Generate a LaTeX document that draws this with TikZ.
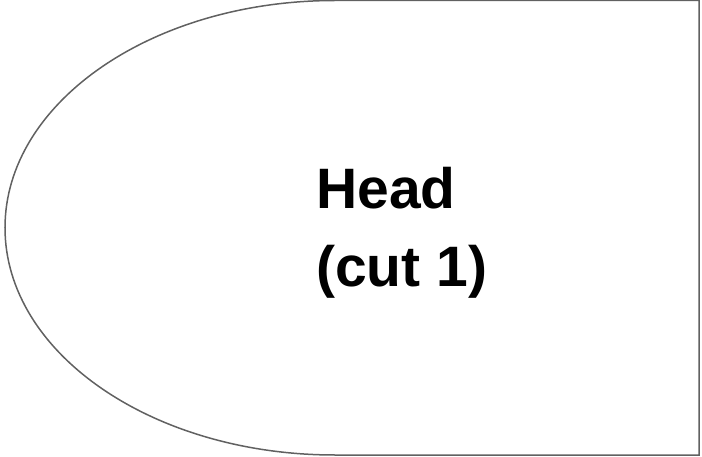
\documentclass[tikz,border=0pt]{standalone}
\usepackage{fontspec}
\setmainfont{Liberation Sans}
\tikzset{
  outline/.style={line width=1.5pt,draw=black!62},
  title/.style={font=\bfseries\fontsize{57}{78}\selectfont,align=left,inner sep=0pt}
}
\begin{document}
\begin{tikzpicture}[x=1pt,y=-1pt]
\useasboundingbox (0,0) rectangle (702,457);
% head outline: half ellipse on the left, straight cut on the right
\draw[outline] (335,0.5) -- (699,0.5) -- (699,455) -- (335,455)
  arc[start angle=90,end angle=270,x radius=330,y radius=227.25] -- cycle;
\node[title,anchor=base west] (label) at (316,287) {Head\\(cut 1)};
\end{tikzpicture}
\end{document}
